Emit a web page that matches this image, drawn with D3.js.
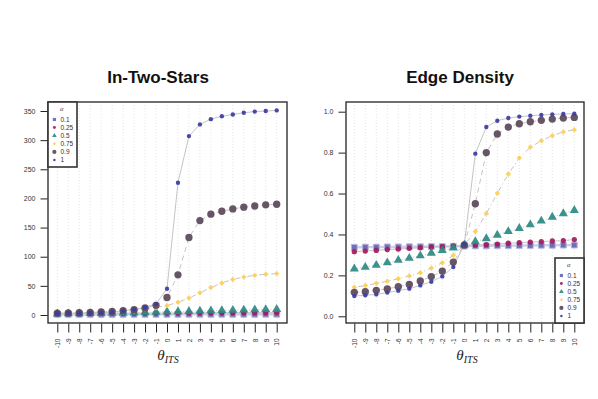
<!DOCTYPE html>
<html><head><meta charset="utf-8">
<script src="https://cdn.jsdelivr.net/npm/d3@7"></script>
<style>
body{margin:0;background:#fff;}
svg{display:block;font-family:"Liberation Sans",Arial,sans-serif;}
</style></head>
<body>
<svg id="chart" width="598" height="399"></svg>
<script>
// ---------- data ----------
const thetas = [-10,-9,-8,-7,-6,-5,-4,-3,-2,-1,0,1,2,3,4,5,6,7,8,9,10];
const alphaLabels = ["0.1","0.25","0.5","0.75","0.9","1"];
const panelTitles = ["In-Two-Stars","Edge Density"];
const twoStarTicks = [0,50,100,150,200,250,300,350];
const densityTicks = [0,0.2,0.4,0.6,0.8,1.0];

const twoStars_a01  = [1.0,1.0,1.0,1.0,1.0,1.0,1.1,1.1,1.1,1.1,1.1,1.1,1.2,1.2,1.2,1.2,1.2,1.2,1.2,1.3,1.3];
const twoStars_a025 = [2.8,2.9,2.9,3.0,3.0,3.1,3.1,3.2,3.2,3.3,3.4,3.4,3.5,3.6,3.6,3.7,3.8,3.9,3.9,4.0,4.1];
const twoStars_a05  = [2.0,2.2,2.4,2.7,3.0,3.3,3.6,4.0,4.4,4.9,5.4,5.9,6.4,6.9,7.4,7.9,8.3,8.7,9.1,9.5,9.8];
const twoStars_a075 = [2.5,2.7,3.0,3.4,3.9,4.6,5.6,7.0,9.5,13,16,22,29,38,47,55,61,65,68,70,71];
const twoStars_a09  = [3.3,3.5,3.9,4.4,5.2,6.1,7.5,9.2,12,16.6,30,69,133,162,173,178,182,185,187,189,190];
const twoStars_a1   = [2.9,2.9,3.0,3.4,4.0,5.1,7.4,9.7,13,19,45,227,307,327,336,341,344,347,349,350,351];

const density_a01  = [0.337,0.338,0.338,0.339,0.339,0.340,0.340,0.341,0.341,0.342,0.343,0.344,0.344,0.345,0.345,0.346,0.346,0.347,0.347,0.348,0.348];
const density_a025 = [0.316,0.319,0.322,0.326,0.329,0.332,0.335,0.339,0.340,0.344,0.347,0.349,0.350,0.353,0.357,0.360,0.363,0.365,0.368,0.370,0.375];
const density_a05  = [0.232,0.240,0.250,0.262,0.274,0.284,0.296,0.309,0.322,0.335,0.349,0.365,0.380,0.397,0.415,0.430,0.448,0.466,0.485,0.502,0.518];
const density_a075 = [0.142,0.150,0.161,0.171,0.184,0.197,0.213,0.236,0.262,0.298,0.349,0.414,0.502,0.601,0.695,0.774,0.826,0.858,0.883,0.901,0.912];
const density_a09  = [0.117,0.120,0.127,0.134,0.145,0.156,0.173,0.194,0.221,0.265,0.349,0.550,0.800,0.891,0.925,0.941,0.951,0.958,0.964,0.969,0.972];
const density_a1   = [0.099,0.103,0.107,0.116,0.125,0.135,0.151,0.169,0.195,0.241,0.352,0.795,0.925,0.956,0.969,0.976,0.980,0.984,0.987,0.989,0.990];

// ---------- styles ----------
const colors = ["#6464b4","#a3195b","#2b8a84","#fccf55","#5b4658","#3b3ba5"];
const symbols = [d3.symbolSquare,d3.symbolCircle,d3.symbolTriangle,d3.symbolSquare,d3.symbolCircle,d3.symbolCircle];
const sizes = [34,22,36,15,42,15];
const legSizes = [10,7,10,5,14,5];
const rotations = [0,0,0,45,0,0];
const dashes = [null,"8,3","1,2","1,3,5,3","5,4",null];

const svg = d3.select("#chart");

const panels = [
  {title:panelTitles[0], titleX:158, box:[48,102,287,323], yr:[315,111], xr:[57.3,276.7],
   ydom:[0,350], ticks:twoStarTicks, fmt:d3.format("d"),
   series:[twoStars_a01,twoStars_a025,twoStars_a05,twoStars_a075,twoStars_a09,twoStars_a1],
   legend:[48,102], xlabX:168},
  {title:panelTitles[1], titleX:460, box:[346,102,584,323], yr:[316.3,111.7], xr:[354.3,574.3],
   ydom:[0,1], ticks:densityTicks, fmt:d3.format(".1f"),
   series:[density_a01,density_a025,density_a05,density_a075,density_a09,density_a1],
   legend:[555,258], xlabX:467}
];

panels.forEach(p=>{
  const g = svg.append("g");
  const [x0,y0,x1,y1] = p.box;
  const x = d3.scaleLinear().domain([-10,10]).range(p.xr);
  const y = d3.scaleLinear().domain(p.ydom).range(p.yr);

  // grid
  g.append("g").selectAll("line").data(thetas).join("line")
    .attr("x1",d=>x(d)).attr("x2",d=>x(d)).attr("y1",y0).attr("y2",y1)
    .attr("stroke","#d8d8d8").attr("stroke-width",0.7).attr("stroke-dasharray","1,2");

  // lines
  p.series.forEach((s,i)=>{
    const line = d3.line().x((d,j)=>x(thetas[j])).y(d=>y(d));
    g.append("path").datum(s).attr("d",line).attr("fill","none")
      .attr("stroke", i===0 ? "#cfcfe4" : "#c4c4c4")
      .attr("stroke-width", i===0 ? 2.4 : 1)
      .attr("stroke-dasharray", dashes[i]);
  });
  // points
  p.series.forEach((s,i)=>{
    const sym = d3.symbol().type(symbols[i]).size(sizes[i]);
    g.append("g").selectAll("path").data(s).join("path")
      .attr("d",sym)
      .attr("transform",(d,j)=>`translate(${x(thetas[j])},${y(d)}) rotate(${rotations[i]})`)
      .attr("fill",colors[i]).attr("fill-opacity",0.92)
      .attr("stroke", i===0 ? "#b8b8dc" : "none").attr("stroke-width",1);
  });

  // box
  g.append("rect").attr("x",x0).attr("y",y0).attr("width",x1-x0).attr("height",y1-y0)
    .attr("fill","none").attr("stroke","#222").attr("stroke-width",1.3);

  // y axis
  const ya = g.append("g").attr("transform",`translate(${x0-0.5},0)`)
    .call(d3.axisLeft(y).tickValues(p.ticks).tickFormat(p.fmt).tickSize(7).tickPadding(5));
  ya.select(".domain").remove();
  ya.selectAll("line").attr("stroke","#222").attr("stroke-width",1);
  ya.selectAll("text").attr("font-size","7px").attr("fill","#333")
    .attr("font-family","Liberation Sans, Arial, sans-serif");

  // x axis
  const xa = g.append("g").attr("transform",`translate(0,${y1+0.5})`)
    .call(d3.axisBottom(x).tickValues(thetas).tickFormat(d=>String(d)).tickSize(9));
  xa.select(".domain").remove();
  xa.selectAll("line").attr("stroke","#222").attr("stroke-width",1);
  xa.selectAll("text").attr("font-size","6.5px").attr("fill","#333")
    .attr("font-family","Liberation Sans, Arial, sans-serif")
    .attr("transform","rotate(-90)").attr("text-anchor","end")
    .attr("x",-15).attr("y",0).attr("dy","0.35em");

  // x label theta_ITS
  const xl = g.append("text").attr("x",p.xlabX).attr("y",360).attr("text-anchor","middle")
    .attr("font-family","Liberation Serif, DejaVu Serif, serif").attr("font-style","italic")
    .attr("fill","#222");
  xl.append("tspan").attr("font-size","15px").text("θ");
  xl.append("tspan").attr("font-size","10px").attr("dy",3).text("ITS");

  // title
  g.append("text").attr("x",p.titleX).attr("y",83).attr("text-anchor","middle")
    .attr("font-size","17px").attr("font-weight","bold").attr("fill","#111").text(p.title);

  // legend
  const [lx,ly] = p.legend;
  const lg = g.append("g");
  lg.append("rect").attr("x",lx).attr("y",ly).attr("width",29).attr("height",65)
    .attr("fill","#fff").attr("stroke","#333").attr("stroke-width",1.6);
  lg.append("text").attr("x",lx+12).attr("y",ly+9).attr("font-size","6.5px")
    .attr("font-family","Liberation Serif, serif").attr("font-style","italic").attr("fill","#444").text("α");
  alphaLabels.forEach((lab,i)=>{
    const cy = ly+17.5+i*8.1;
    lg.append("path").attr("d",d3.symbol().type(symbols[i]).size(legSizes[i]))
      .attr("transform",`translate(${lx+6.4},${cy}) rotate(${rotations[i]})`)
      .attr("fill",colors[i]).attr("fill-opacity",0.9);
    lg.append("text").attr("x",lx+12.5).attr("y",cy).attr("dy","0.35em")
      .attr("font-size","6.5px").attr("fill","#333").text(lab);
  });
});
</script>
</body></html>
